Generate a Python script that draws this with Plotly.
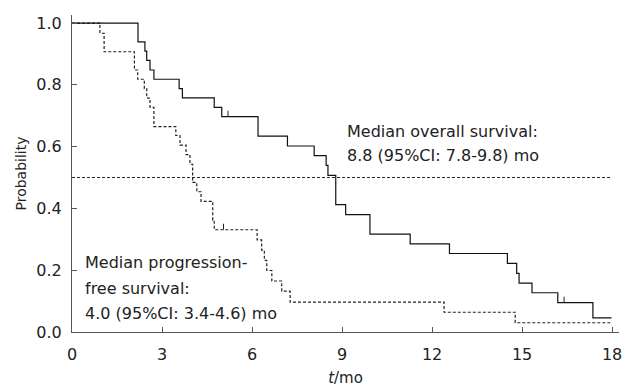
import plotly.graph_objects as go

# Overall survival (Kaplan-Meier, solid)
os_t = [0, 2.2, 2.43, 2.49, 2.6, 2.73, 3.57, 3.68, 4.74, 4.99, 6.2, 7.18, 8.07, 8.47, 8.53,
        8.79, 9.12, 9.93, 11.27, 12.58, 14.51, 14.82, 14.9, 15.33, 16.19, 17.36, 17.98]
os_s = [1.0, 0.939, 0.909, 0.879, 0.848, 0.818, 0.788, 0.758, 0.727, 0.697, 0.634, 0.602, 0.571, 0.539, 0.507,
        0.412, 0.380, 0.317, 0.285, 0.254, 0.222, 0.190, 0.158, 0.127, 0.095, 0.046, 0.046]
os_cens_t = [5.2, 16.4]
os_cens_s = [0.697, 0.095]

# Progression-free survival (Kaplan-Meier, dashed)
pfs_t = [0, 0.93, 1.07, 2.08, 2.19, 2.41, 2.49, 2.6, 2.73, 3.46, 3.6, 3.8, 3.93, 4.02, 4.16, 4.3,
         4.69, 4.74, 6.17, 6.32, 6.41, 6.49, 6.66, 6.99, 7.27, 12.4, 14.77, 17.98]
pfs_s = [1.0, 0.967, 0.907, 0.848, 0.818, 0.788, 0.757, 0.727, 0.665, 0.636, 0.605, 0.574, 0.543, 0.484, 0.454, 0.423,
         0.362, 0.331, 0.298, 0.265, 0.232, 0.199, 0.165, 0.132, 0.097, 0.064, 0.030, 0.030]
pfs_cens_t = [5.05]
pfs_cens_s = [0.331]

median_level = 0.5
median_span = [0, 18]

x_ticks = [0, 3, 6, 9, 12, 15, 18]
y_ticks = [0.0, 0.2, 0.4, 0.6, 0.8, 1.0]

FONT = "DejaVu Sans"
fig = go.Figure()

fig.add_trace(go.Scatter(x=median_span, y=[median_level, median_level], mode="lines",
                         line=dict(color="#222", width=1, dash="3px,2px"), showlegend=False, hoverinfo="skip"))
fig.add_trace(go.Scatter(x=pfs_t, y=pfs_s, mode="lines", line_shape="hv",
                         line=dict(color="#222", width=1.2, dash="3px,2px"), showlegend=False))
fig.add_trace(go.Scatter(x=os_t, y=os_s, mode="lines", line_shape="hv",
                         line=dict(color="#111", width=1.2), showlegend=False))

for t, s in list(zip(os_cens_t, os_cens_s)) + list(zip(pfs_cens_t, pfs_cens_s)):
    fig.add_shape(type="line", xref="x", yref="y", ysizemode="pixel", yanchor=s,
                  x0=t, x1=t, y0=0, y1=6, line=dict(color="#222", width=1))

def note(text, x, y):
    fig.add_annotation(text=text, x=x, y=y, xref="x", yref="y", xanchor="left", yanchor="middle",
                       showarrow=False, font=dict(family=FONT, size=16, color="#222"))

note("Median overall survival:", 9.1, 0.650)
note("8.8 (95%CI: 7.8-9.8) mo", 9.1, 0.572)
note("Median progression-", 0.36, 0.224)
note("free survival:", 0.36, 0.140)
note("4.0 (95%CI: 3.4-4.6) mo", 0.36, 0.059)

axis_common = dict(showline=True, linecolor="#555", linewidth=1, ticks="inside", ticklen=5,
                   tickcolor="#555", showgrid=False, zeroline=False, automargin=False,
                   tickfont=dict(family=FONT, size=16, color="#222"))

fig.update_layout(
    width=626, height=389,
    margin=dict(l=72, r=7, t=15, b=57),
    paper_bgcolor="white", plot_bgcolor="white",
    xaxis=dict(range=[0, 18.23], tickvals=x_ticks, ticktext=[str(v) for v in x_ticks],
               ticklabelstandoff=8,
               title=dict(text="<i>t</i>/mo", font=dict(family=FONT, size=15, color="#222"), standoff=9),
               **axis_common),
    yaxis=dict(range=[0, 1.026], tickvals=y_ticks, ticktext=[f"{v:.1f}" for v in y_ticks],
               ticklabelstandoff=6,
               title=dict(text="Probability", font=dict(family=FONT, size=14, color="#222"), standoff=6),
               **axis_common),
)

fig.write_html("out.html", config={"displayModeBar": False},
               post_script="document.body.style.margin='0';document.body.style.overflow='hidden';")
